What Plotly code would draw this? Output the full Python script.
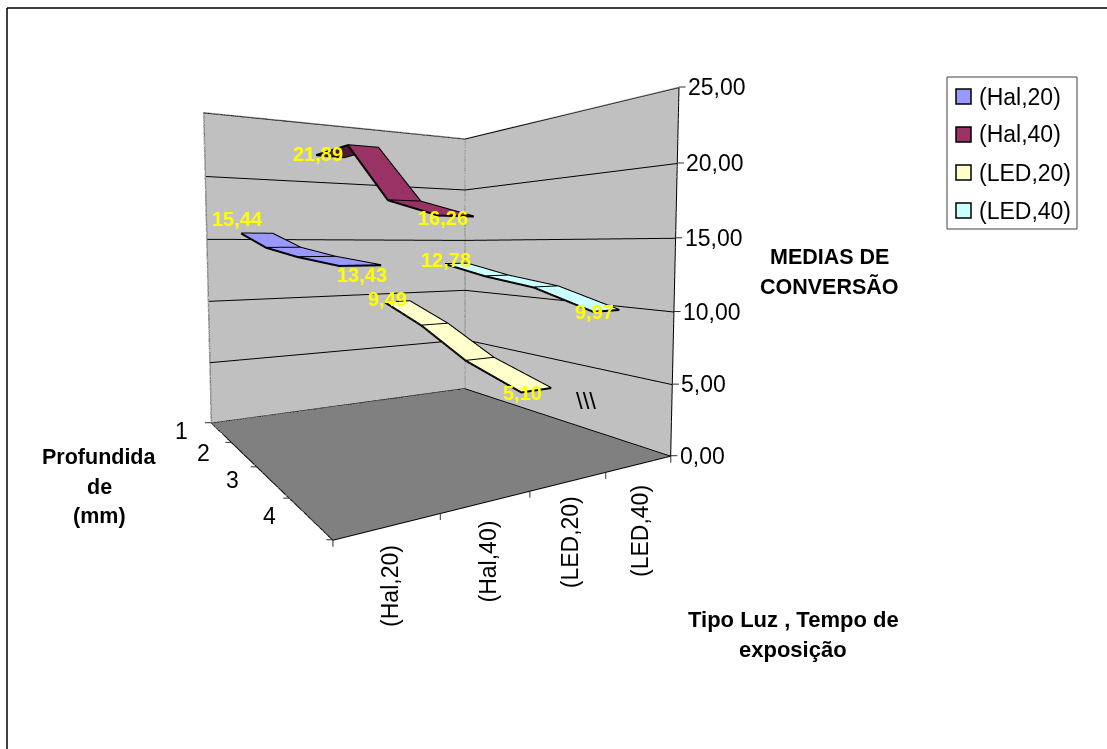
import plotly.graph_objects as go

categories = ["(Hal,20)", "(Hal,40)", "(LED,20)", "(LED,40)"]
depths = [1, 2, 3, 4]
hal20 = [15.44, 14.35, 13.8, 13.43]
hal40 = [21.89, 21.9, 17.5, 16.26]
led20 = [9.49, 8.1, 6.2, 5.10]
led40 = [12.78, 11.9, 11.3, 9.97]
z_ticks = [0, 5, 10, 15, 20, 25]

series = [hal20, hal40, led20, led40]
colors = ["#9999FF", "#993366", "#FFFFCC", "#CCFFFF"]
# Shade of each ribbon segment: the rising first stretch of (Hal,40) shows its underside
segment_colors = [
    ["#9999FF"] * 3,
    ["#4D1933", "#993366", "#993366"],
    ["#FFFFCC"] * 3,
    ["#CCFFFF"] * 3,
]
RIBBON_HALF = 0.2
FONT = "Liberation Sans"

# Pixel offsets of the value labels from their ribbon ends: (first, last)
value_label_offsets = [
    ((-20, 14), (1, -10)),
    ((-12, 2), (-13, -2)),
    ((-10, 2), (-14, -3)),
    ((-10, 3), (-12, -2)),
]
category_label_drop = [-60, -60, -61, -67]

# Camera and viewport of the 3D scene
VIEW_CX, VIEW_CY, VIEW_H, VIEW_W = 451.2, 290.0, 557.0, 902.0
ASPECT = dict(x=1, y=1.03957, z=1.00704)
EYE = dict(x=-0.99484, y=-1.74581, z=0.08311)
CENTER = dict(x=-0.4628, y=-0.9017, z=0.01525)

W, H = 1107, 749
fig = go.Figure()


def comma(v):
    return f"{v:.2f}".replace(".", ",")


# One ribbon per series: a strip of quads running along the depth axis
for s, (vals, seg_cols) in enumerate(zip(series, segment_colors)):
    c = s + 1
    xs, ys, zs = [], [], []
    for d, v in zip(depths, vals):
        xs += [c - RIBBON_HALF, c + RIBBON_HALF]
        ys += [d, d]
        zs += [v, v]
    i, j, k, face = [], [], [], []
    for n in range(3):
        a = 2 * n
        i += [a, a]
        j += [a + 1, a + 3]
        k += [a + 3, a + 2]
        face += [seg_cols[n], seg_cols[n]]
    fig.add_trace(go.Mesh3d(
        x=xs, y=ys, z=zs, i=i, j=j, k=k, facecolor=face, flatshading=True,
        lighting=dict(ambient=1, diffuse=0, specular=0, roughness=1, fresnel=0),
        hoverinfo="skip"))
    ox, oy, oz = [], [], []
    for n in range(3):
        for q in [2 * n, 2 * n + 1, 2 * n + 3, 2 * n + 2, 2 * n, None]:
            ox.append(None if q is None else xs[q])
            oy.append(None if q is None else ys[q])
            oz.append(None if q is None else zs[q])
    fig.add_trace(go.Scatter3d(x=ox, y=oy, z=oz, mode="lines",
                               line=dict(color="black", width=4),
                               hoverinfo="skip", showlegend=False))

# Front floor edges and the value axis in black, wall outline in grey
fig.add_trace(go.Scatter3d(x=[.5, .5, 4.5, 4.5], y=[.5, 4.5, 4.5, 4.5], z=[0, 0, 0, 25], mode="lines",
                           line=dict(color="black", width=2), hoverinfo="skip", showlegend=False))
fig.add_trace(go.Scatter3d(x=[.5, .5, 4.5, 4.5, None, 4.5, 4.5, None, .5, 4.5],
                           y=[.5, .5, .5, 4.5, None, .5, .5, None, .5, .5],
                           z=[0, 25, 25, 25, None, 25, 0, None, 0, 0], mode="lines",
                           line=dict(color="#808080", width=3), hoverinfo="skip", showlegend=False))

anns = []


def label(x, y, z, text, size=23, color="black", bold=False, angle=0, dx=0, dy=0, xa="center"):
    anns.append(dict(x=x, y=y, z=z, text=f"<b>{text}</b>" if bold else text, showarrow=False,
                     font=dict(family=FONT, size=size, color=color), textangle=angle,
                     xshift=dx, yshift=dy, xanchor=xa, yanchor="middle"))


def tick(x, y, z, ax, ay):
    anns.append(dict(x=x, y=y, z=z, text=" ", showarrow=True, arrowhead=0, arrowwidth=1,
                     arrowcolor="#303030", ax=ax, ay=ay, standoff=0, startstandoff=0,
                     font=dict(size=1)))


bands = [.5, 1.5, 2.5, 3.5, 4.5]
for b in bands:
    tick(b, 4.5, 0, 0, 9)
    tick(.5, b, 0, -8, 0)

for s, cat in enumerate(categories):
    label(s + 1, 4.5, 0, cat, angle=-90, dx=1, dy=category_label_drop[s])
for d in depths:
    label(.5, d, 0, str(d), dx=-40, dy=1)
for v in z_ticks:
    tick(4.5, 4.5, v, 8, 0)
    label(4.5, 4.5, v, comma(v), dx=7, xa="left")
for s, vals in enumerate(series):
    first, last = value_label_offsets[s]
    label(s + 1, depths[0], vals[0], comma(vals[0]), size=20, color="#FFFF00", bold=True,
          dx=first[0], dy=first[1])
    label(s + 1, depths[-1], vals[-1], comma(vals[-1]), size=20, color="#FFFF00", bold=True,
          dx=last[0], dy=last[1])


def axis(**kw):
    return dict(title="", showticklabels=False, zeroline=False, showspikes=False, ticks="", **kw)


def px(x):
    return x / W


def py(y):
    return 1 - y / H


def caption(x, y, text, size=21.5, bold=True, xa="center"):
    return dict(x=px(x), y=py(y), xref="paper", yref="paper", text=f"<b>{text}</b>" if bold else text,
                showarrow=False, xanchor=xa, yanchor="middle",
                font=dict(family=FONT, size=size, color="black"))


def box(x0, y0, x1, y1, line, fill="rgba(0,0,0,0)", width=1):
    return dict(type="rect", xref="paper", yref="paper", x0=px(x0), x1=px(x1), y0=py(y1), y1=py(y0),
                line=dict(color=line, width=width), fillcolor=fill)


frame = [dict(type="line", xref="paper", yref="paper", x0=px(7), x1=px(7), y0=0, y1=py(8),
              line=dict(color="black", width=1.5)),
         dict(type="line", xref="paper", yref="paper", x0=px(7), x1=1, y0=py(8), y1=py(8),
              line=dict(color="black", width=1.5))]

# Key on the right: bordered box, swatch and name per series
key = [box(947, 77, 1077, 229, "#404040")]
key_text = []
for n, (col, cat) in enumerate(zip(colors, categories)):
    top = 89 + 38 * n
    key.append(box(956, top, 971, top + 15, "black", col, 1.5))
    key_text.append(caption(977, top + 7.5, cat, size=23, bold=False, xa="left"))

fig.update_layout(
    width=W, height=H, margin=dict(l=0, r=0, t=0, b=0), paper_bgcolor="white",
    font=dict(family=FONT, color="black", size=22), showlegend=False,
    scene=dict(
        domain=dict(x=[0, (VIEW_CX + VIEW_W / 2) / W],
                    y=[py(VIEW_CY + VIEW_H / 2), py(VIEW_CY - VIEW_H / 2)]),
        dragmode=False, aspectmode="manual", aspectratio=ASPECT,
        camera=dict(eye=EYE, center=CENTER, up=dict(x=0, y=0, z=1),
                    projection=dict(type="perspective")),
        xaxis=axis(range=[.5, 4.5], showbackground=True, backgroundcolor="#C0C0C0", showgrid=False),
        yaxis=axis(range=[4.5, .5], showbackground=True, backgroundcolor="#C0C0C0", showgrid=False),
        zaxis=axis(range=[0, 25], showbackground=True, backgroundcolor="#808080", tickvals=z_ticks,
                   showgrid=True, gridcolor="black", gridwidth=2),
        annotations=anns),
    shapes=frame + key,
    annotations=key_text + [
        caption(829, 257, "MEDIAS DE"),
        caption(829, 287, "CONVERSÃO"),
        caption(99, 457, "Profundida"),
        caption(99, 487, "de"),
        caption(99, 516, "(mm)"),
        caption(793, 619, "Tipo Luz , Tempo de", size=22),
        caption(793, 649, "exposição", size=22),
        caption(586, 400, "\\\\\\", size=24, bold=False),
    ])
fig.write_html("out.html")
